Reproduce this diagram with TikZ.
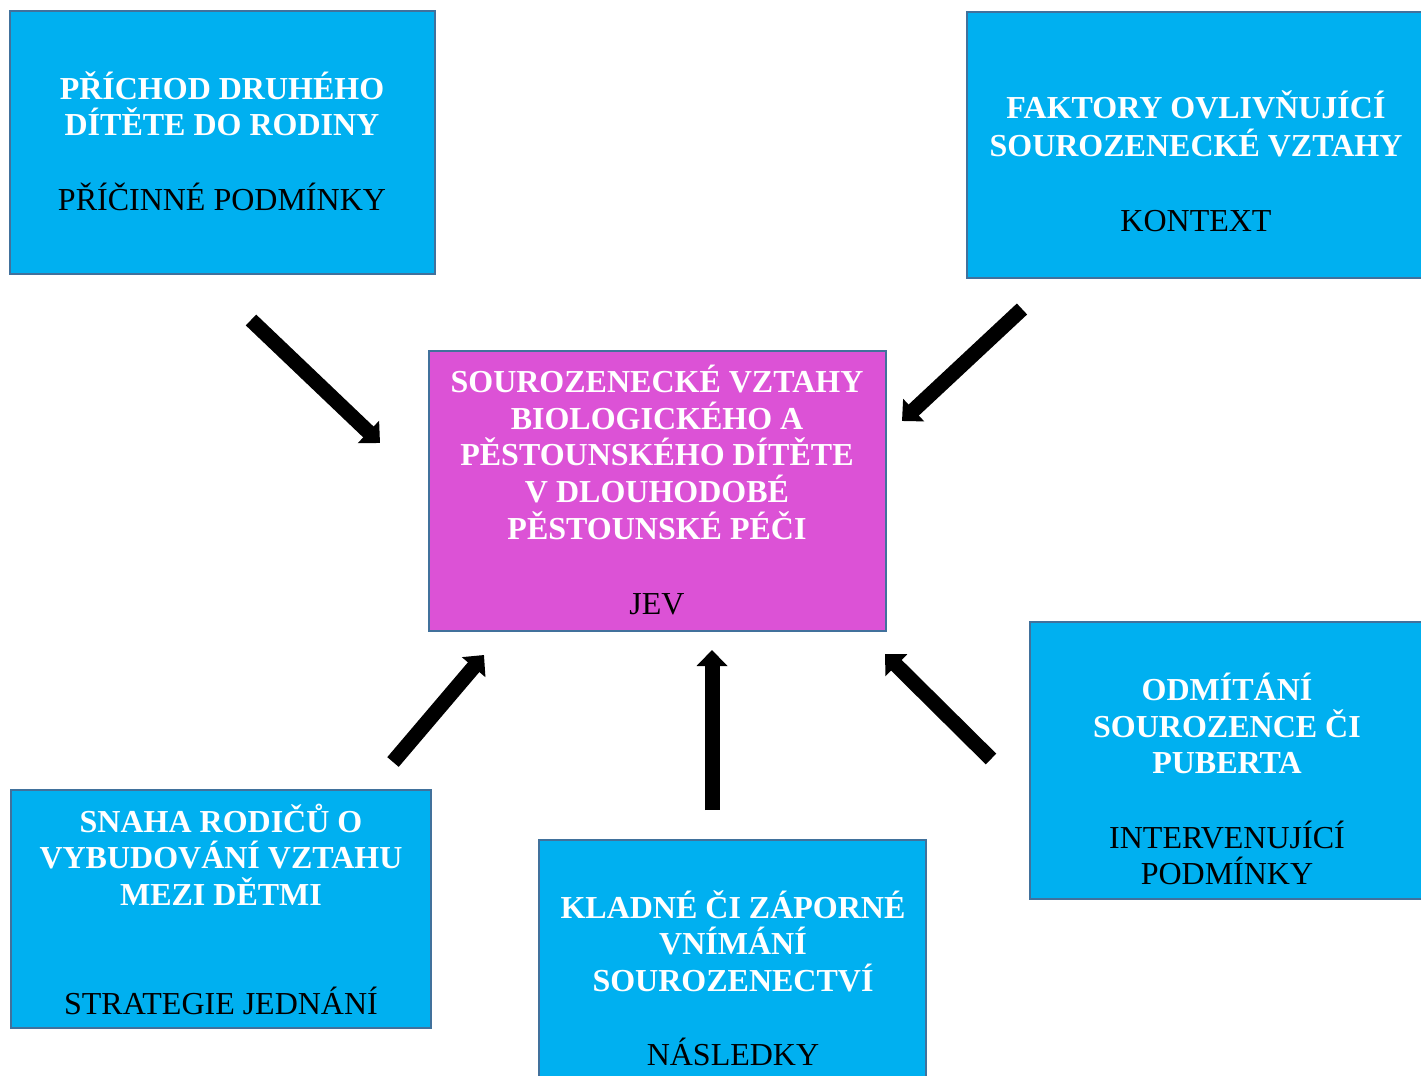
\documentclass[tikz,border=0pt]{standalone}
\usepackage{fontspec}
\setmainfont{Liberation Serif}
\usetikzlibrary{arrows.meta}
\definecolor{boxblue}{HTML}{00B0F0}
\definecolor{boxmag}{HTML}{DC52D6}
\definecolor{edgeblue}{HTML}{41719C}
\begin{document}
\begin{tikzpicture}[x=0.5pt,y=-0.5pt,
  bluebox/.style={draw=edgeblue,line width=1pt,fill=boxblue,inner sep=0pt},
  magbox/.style={draw=edgeblue,line width=1pt,fill=boxmag,inner sep=0pt},
  ttl/.style={anchor=base,inner sep=0pt,text=white,font=\fontsize{16pt}{18pt}\selectfont\bfseries},
  lbl/.style={anchor=base,inner sep=0pt,text=black,font=\fontsize{16pt}{18pt}\selectfont},
  bigarrow/.style={line width=7.5pt,black,-{Triangle[length=8pt,width=15pt]}}]
\useasboundingbox (0,0) rectangle (1421,1076);
\fill[white] (0,0) rectangle (1421,1076);

% boxes
\node[bluebox,minimum width=212.5pt,minimum height=131.5pt] (b1) at (222.5,142.5) {};
\node[bluebox,minimum width=229.5pt,minimum height=133pt] (b2) at (1196.5,145) {};
\node[magbox,minimum width=228.5pt,minimum height=140pt] (b3) at (657.5,491) {};
\node[bluebox,minimum width=210pt,minimum height=119pt] (b4) at (221,909) {};
\node[bluebox,minimum width=193.5pt,minimum height=121pt] (b5) at (732.5,961) {};
\node[bluebox,minimum width=198pt,minimum height=138.5pt] (b6) at (1228,760.5) {};

% box 1
\node[ttl] (t1a) at (222,99) {PŘÍCHOD DRUHÉHO};
\node[ttl] (t1b) at (222,135) {DÍTĚTE DO RODINY};
\node[lbl] (l1) at (222,210) {PŘÍČINNÉ PODMÍNKY};
% box 2
\node[ttl] (t2a) at (1196,119) {FAKTORY OVLIVŇUJÍCÍ};
\node[ttl] (t2b) at (1196,156) {SOUROZENECKÉ VZTAHY};
\node[lbl] (l2) at (1196,231) {KONTEXT};
% box 3
\node[ttl] (t3a) at (657,392) {SOUROZENECKÉ VZTAHY};
\node[ttl] (t3b) at (657,429) {BIOLOGICKÉHO A};
\node[ttl] (t3c) at (657,465) {PĚSTOUNSKÉHO DÍTĚTE};
\node[ttl] (t3d) at (657,502) {V DLOUHODOBÉ};
\node[ttl] (t3e) at (657,539) {PĚSTOUNSKÉ PÉČI};
\node[lbl] (l3) at (657,614) {JEV};
% box 4
\node[ttl] (t4a) at (221,832) {SNAHA RODIČŮ O};
\node[ttl] (t4b) at (221,868) {VYBUDOVÁNÍ VZTAHU};
\node[ttl] (t4c) at (221,905) {MEZI DĚTMI};
\node[lbl] (l4) at (221,1014) {STRATEGIE JEDNÁNÍ};
% box 5
\node[ttl] (t5a) at (733,918) {KLADNÉ ČI ZÁPORNÉ};
\node[ttl] (t5b) at (733,954) {VNÍMÁNÍ};
\node[ttl] (t5c) at (733,991) {SOUROZENECTVÍ};
\node[lbl] (l5) at (733,1065) {NÁSLEDKY};
% box 6
\node[ttl] (t6a) at (1227,700) {ODMÍTÁNÍ};
\node[ttl] (t6b) at (1227,737) {SOUROZENCE ČI};
\node[ttl] (t6c) at (1227,773) {PUBERTA};
\node[lbl] (l6a) at (1227,848) {INTERVENUJÍCÍ};
\node[lbl] (l6b) at (1227,884) {PODMÍNKY};

% arrows
\coordinate (a1s) at (251,320);
\coordinate (a1e) at (380,443);
\coordinate (a2s) at (1022,309);
\coordinate (a2e) at (902,421);
\coordinate (a3s) at (393,762);
\coordinate (a3e) at (484,655);
\coordinate (a4s) at (712,810);
\coordinate (a4e) at (712,650);
\coordinate (a5s) at (991,759);
\coordinate (a5e) at (885,654);
\draw[bigarrow] (a1s) -- (a1e);
\draw[bigarrow] (a2s) -- (a2e);
\draw[bigarrow] (a3s) -- (a3e);
\draw[bigarrow] (a4s) -- (a4e);
\draw[bigarrow] (a5s) -- (a5e);
\end{tikzpicture}
\end{document}
